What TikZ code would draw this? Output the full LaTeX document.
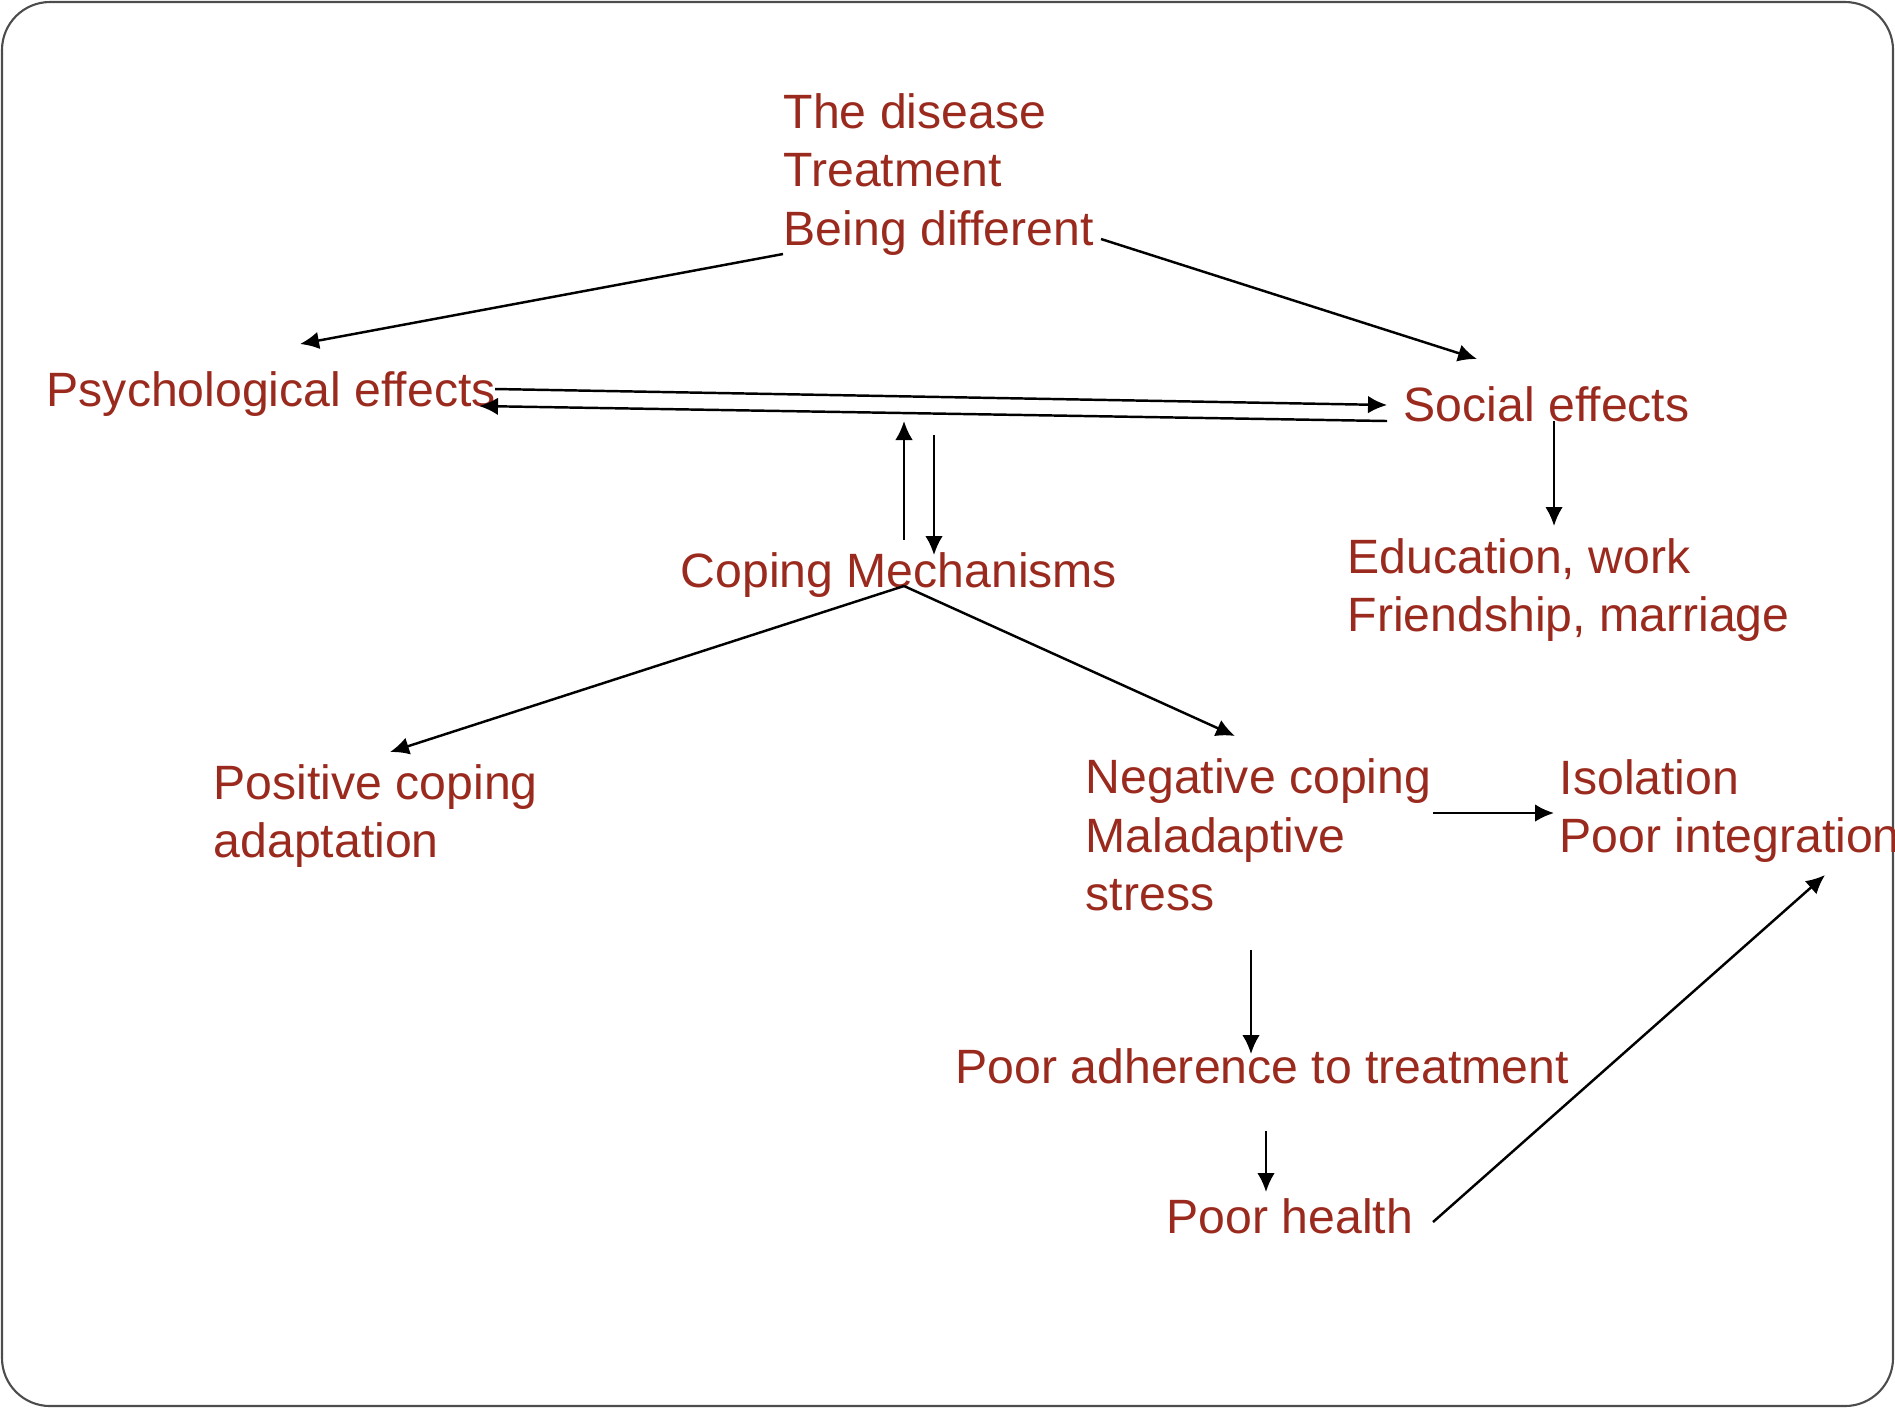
\documentclass[tikz,border=0pt]{standalone}
\usepackage{fontspec}
\setmainfont{Liberation Sans}
\usetikzlibrary{arrows.meta}
\definecolor{txtred}{RGB}{155,42,30}

\begin{document}
\begin{tikzpicture}[x=0.01cm,y=-0.01cm,
  txt/.style={anchor=base west,inner sep=0pt,align=left,text=txtred,
    font=\fontsize{13.7}{16.5}\selectfont},
  arr/.style={-{Latex[length=5.4pt,width=5pt]},line width=0.7pt}]
\useasboundingbox (0,0) rectangle (1895,1408);
\draw[black!70,line width=0.6pt,rounded corners=0.48cm] (2,2) rectangle (1893,1406);
% multi-line nodes sit on their last line
       \node [txt] at (783,245) (dis) {The disease\\Treatment\\Being different};
       \node [txt] at (46,406) (psy) {Psychological effects};
       \node [txt] at (1403,421) (soc) {Social effects};
       \node [txt] at (1347,631) (edu) {Education, work\\Friendship, marriage};
       \node [txt] at (680,587) (cop) {Coping Mechanisms};
       \node [txt] at (213,857) (pos) {Positive coping\\adaptation};
       \node [txt] at (1085,910) (neg) {Negative coping\\Maladaptive\\stress};
       \node [txt] at (1559,852) (iso) {Isolation\\Poor integration};
       \node [txt] at (955,1083) (adh) {Poor adherence to treatment};
       \node [txt] at (1166,1233) (hea) {Poor health};
%
%
\path[arr] ([shift={(0,9)}]dis.base west) edge ([shift={(254,-62)}]psy.base west);
\path[arr] ([shift={(318,-6)}]dis.base west) edge ([shift={(74,-62)}]soc.base west);
\path[arr] ([shift={(449,-17)}]psy.base west) edge ([shift={(-16,-16)}]soc.base west);
\path[arr] ([shift={(-16,0)}]soc.base west) edge ([shift={(433,0)}]psy.base west);
\path[arr] ([shift={(224,-47)}]cop.base west) edge ([shift={(858,15)}]psy.base west);
\path[arr] ([shift={(888,29)}]psy.base west) edge ([shift={(254,-32)}]cop.base west);
\path[arr] ([shift={(151,0)}]soc.base west) edge ([shift={(207,-105)}]edu.base west);
\path[arr] ([shift={(224,-1)}]cop.base west) edge ([shift={(177,-105)}]pos.base west);
\path[arr] ([shift={(224,-1)}]cop.base west) edge ([shift={(150,-174)}]neg.base west);
\path[arr] ([shift={(348,-97)}]neg.base west) edge ([shift={(-5,-39)}]iso.base west);
\path[arr] ([shift={(166,40)}]neg.base west) edge ([shift={(296,-29)}]adh.base west);
\path[arr] ([shift={(311,48)}]adh.base west) edge ([shift={(100,-41)}]hea.base west);
\path[arr] ([shift={(267,-11)}]hea.base west) edge ([shift={(266,23)}]iso.base west);

\end{tikzpicture}
\end{document}
